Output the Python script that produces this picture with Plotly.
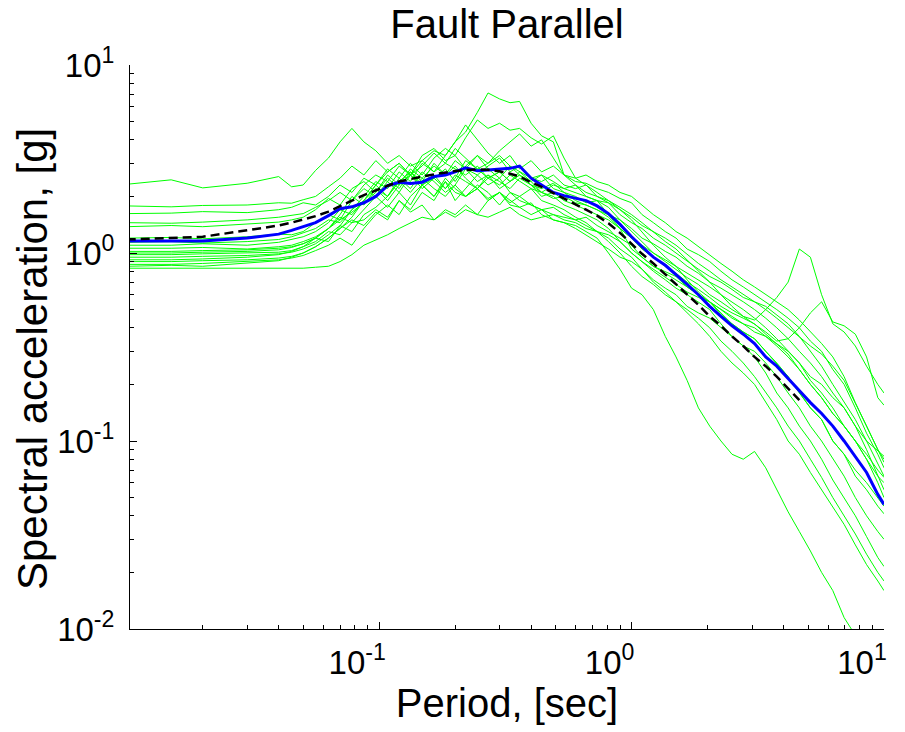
import plotly.graph_objects as go

# Periods (sec) shared by all spectra
period = [0.01, 0.015, 0.02, 0.03, 0.04, 0.045, 0.05, 0.056, 0.063, 0.07,
          0.078, 0.087, 0.097, 0.108, 0.12, 0.133, 0.148, 0.165, 0.183, 0.2,
          0.22, 0.245, 0.27, 0.3, 0.33, 0.36, 0.4, 0.44, 0.49, 0.54,
          0.6, 0.66, 0.73, 0.81, 0.9, 1.0, 1.1, 1.22, 1.36, 1.5,
          1.66, 1.84, 2.04, 2.26, 2.5, 2.77, 3.07, 3.4, 3.76, 4.17,
          4.62, 5.11, 5.66, 6.27, 6.95, 7.7, 8.53, 9.45, 10.0]

# Individual record spectra (green), Sa in g
rec01 = [2.32, 2.45, 2.22, 2.35, 2.55, 2.25, 2.30, 2.75, 3.2, 3.9,
         4.6, 3.9, 3.5, 3.0, 3.3, 2.9, 3.1, 2.7, 3.0, 2.8,
         2.6, 2.9, 2.5, 2.7, 2.4, 2.6, 2.3, 2.2, 2.35, 2.1,
         2.0, 1.85, 1.9, 1.6, 1.35, 1.05, 0.95, 0.85, 0.78, 0.72,
         0.66, 0.6, 0.55, 0.5, 0.46, 0.42, 0.38, 0.36, 0.33, 0.30,
         0.26, 0.22, 0.2, 0.17, 0.15, 0.12, 0.1, 0.088, 0.083]
rec02 = [1.78, 1.76, 1.79, 1.80, 1.85, 1.84, 1.92, 2.0, 2.25, 2.5,
         2.9, 2.6, 3.1, 2.7, 3.0, 2.6, 3.3, 3.6, 3.1, 3.3,
         2.8, 2.6, 2.9, 3.2, 2.7, 2.9, 2.5, 2.4, 2.6, 2.3,
         2.2, 2.3, 2.0, 1.85, 1.6, 1.45, 1.35, 1.2, 1.1, 1.0,
         0.9, 0.82, 0.75, 0.7, 0.64, 0.58, 0.55, 0.5, 0.45, 0.40,
         0.36, 0.32, 0.29, 0.25, 0.21, 0.16, 0.12, 0.09, 0.077]
rec03 = [1.62, 1.63, 1.66, 1.64, 1.70, 1.75, 1.85, 1.80, 2.0, 2.3,
         2.1, 2.5, 2.3, 2.8, 2.5, 3.0, 2.6, 3.2, 3.6, 3.3,
         4.1, 5.1, 4.6, 4.9, 4.5, 4.6, 4.1, 3.8, 4.2, 3.2,
         2.5, 2.3, 2.1, 1.9, 1.7, 1.5, 1.3, 1.1, 0.95, 0.85,
         0.72, 0.62, 0.55, 0.47, 0.42, 0.38, 0.35, 0.3, 0.26, 0.22,
         0.18, 0.15, 0.13, 0.1, 0.085, 0.065, 0.055, 0.045, 0.041]
rec04 = [1.45, 1.44, 1.46, 1.50, 1.55, 1.58, 1.62, 1.75, 1.9, 2.1,
         1.9, 2.3, 2.6, 2.4, 2.9, 2.6, 3.1, 3.5, 3.3, 3.9,
         4.4, 5.6, 7.1, 6.6, 6.3, 6.4, 4.9, 4.2, 3.9, 2.6,
         2.4, 2.35, 2.2, 2.1, 1.95, 1.85, 1.6, 1.45, 1.3, 1.2,
         1.05, 0.98, 0.9, 0.8, 0.72, 0.66, 0.6, 0.55, 0.5, 0.45,
         0.4, 0.34, 0.3, 0.24, 0.2, 0.15, 0.11, 0.085, 0.072]
rec05 = [1.38, 1.40, 1.38, 1.42, 1.46, 1.50, 1.55, 1.7, 1.95, 1.8,
         2.2, 2.4, 2.1, 2.6, 2.3, 2.8, 2.5, 2.9, 2.6, 3.1,
         2.8, 3.3, 3.0, 3.5, 3.9, 4.3, 3.7, 4.0, 3.2, 2.6,
         2.3, 2.0, 1.9, 1.75, 1.5, 1.3, 1.15, 1.0, 0.9, 0.82,
         0.74, 0.68, 0.6, 0.55, 0.5, 0.46, 0.44, 0.5, 0.58, 0.7,
         1.05, 0.95, 0.6, 0.42, 0.38, 0.32, 0.25, 0.2, 0.18]
rec06 = [1.20, 1.21, 1.19, 1.22, 1.26, 1.25, 1.30, 1.45, 1.6, 1.5,
         1.9, 2.2, 2.0, 2.4, 2.1, 2.6, 2.3, 2.5, 2.2, 2.6,
         2.4, 2.2, 2.5, 2.3, 2.6, 2.4, 2.2, 2.1, 1.95, 2.0,
         1.85, 1.8, 1.7, 1.55, 1.35, 1.2, 1.05, 0.95, 0.85, 0.78,
         0.7, 0.64, 0.58, 0.52, 0.48, 0.45, 0.42, 0.37, 0.33, 0.29,
         0.24, 0.2, 0.17, 0.14, 0.12, 0.1, 0.085, 0.07, 0.064]
rec07 = [1.10, 1.10, 1.12, 1.10, 1.14, 1.18, 1.22, 1.30, 1.45, 1.7,
         1.6, 1.9, 2.3, 2.0, 2.5, 2.2, 2.7, 2.4, 2.1, 2.3,
         2.8, 2.4, 2.6, 2.2, 2.4, 2.7, 2.4, 2.1, 2.3, 2.2,
         2.3, 2.1, 2.0, 1.9, 1.75, 1.6, 1.45, 1.3, 1.15, 1.05,
         0.92, 0.8, 0.7, 0.6, 0.52, 0.46, 0.42, 0.38, 0.34, 0.35,
         0.4, 0.48, 0.55, 0.43, 0.41, 0.37, 0.28, 0.17, 0.155]
rec08 = [1.06, 1.06, 1.07, 1.05, 1.08, 1.10, 1.15, 1.22, 1.35, 1.5,
         1.65, 1.85, 2.1, 2.5, 2.2, 2.7, 2.4, 3.0, 2.6, 2.9,
         2.5, 2.2, 2.6, 2.4, 2.2, 2.5, 2.3, 2.1, 2.0, 1.8,
         1.7, 1.6, 1.5, 1.35, 1.15, 1.0, 0.9, 0.8, 0.72, 0.65,
         0.6, 0.55, 0.5, 0.42, 0.36, 0.32, 0.28, 0.23, 0.18, 0.15,
         0.12, 0.1, 0.08, 0.062, 0.05, 0.04, 0.031, 0.024, 0.0215]
rec09 = [1.02, 1.02, 1.03, 1.04, 1.06, 1.08, 1.12, 1.2, 1.35, 1.55,
         1.45, 1.7, 2.0, 1.75, 2.1, 1.8, 2.3, 2.0, 2.4, 1.9,
         2.2, 2.6, 2.3, 2.5, 2.1, 2.0, 2.2, 1.9, 1.8, 1.7,
         1.55, 1.45, 1.3, 1.2, 1.05, 0.95, 0.82, 0.7, 0.62, 0.55,
         0.5, 0.45, 0.4, 0.34, 0.3, 0.26, 0.22, 0.18, 0.15, 0.12,
         0.1, 0.08, 0.064, 0.05, 0.04, 0.032, 0.025, 0.02, 0.018]
rec10 = [0.98, 0.98, 0.99, 1.00, 1.01, 1.03, 1.08, 1.15, 1.3, 1.25,
         1.45, 1.5, 1.7, 1.55, 1.9, 1.65, 1.8, 1.5, 1.7, 1.6,
         1.8, 1.6, 1.9, 2.1, 1.85, 2.0, 1.8, 1.7, 1.6, 1.55,
         1.5, 1.4, 1.3, 1.15, 1.0, 0.85, 0.75, 0.68, 0.6, 0.55,
         0.48, 0.42, 0.36, 0.3, 0.26, 0.23, 0.2, 0.16, 0.13, 0.1,
         0.085, 0.068, 0.055, 0.045, 0.036, 0.028, 0.022, 0.018, 0.016]
rec11 = [0.95, 0.95, 0.96, 0.97, 0.99, 1.01, 1.05, 1.12, 1.25, 1.4,
         1.3, 1.6, 1.75, 2.0, 2.4, 2.1, 2.5, 2.2, 2.0, 2.3,
         2.0, 2.2, 1.9, 2.1, 1.8, 1.75, 1.6, 1.7, 1.5, 1.45,
         1.4, 1.3, 1.2, 1.0, 0.82, 0.65, 0.6, 0.5, 0.36, 0.28,
         0.21, 0.15, 0.12, 0.1, 0.085, 0.08, 0.088, 0.072, 0.055, 0.042,
         0.033, 0.026, 0.02, 0.016, 0.0115, 0.0092, 0.0075, 0.006, 0.0055]
rec12 = [0.92, 0.92, 0.93, 0.95, 0.98, 1.02, 1.08, 1.2, 1.15, 1.4,
         1.7, 1.9, 2.2, 1.9, 2.3, 2.6, 2.2, 2.5, 2.8, 2.4,
         2.9, 3.3, 2.8, 2.5, 2.9, 2.6, 2.4, 2.6, 2.2, 2.1,
         1.9, 1.8, 1.7, 1.6, 1.5, 1.35, 1.2, 1.12, 1.02, 0.95,
         0.85, 0.78, 0.7, 0.65, 0.6, 0.55, 0.5, 0.45, 0.4, 0.35,
         0.3, 0.26, 0.22, 0.18, 0.15, 0.12, 0.09, 0.065, 0.055]
rec13 = [0.90, 0.90, 0.91, 0.92, 0.94, 0.96, 1.0, 1.08, 1.2, 1.35,
         1.5, 1.4, 1.65, 1.5, 1.9, 1.7, 2.1, 1.9, 2.4, 2.1,
         2.0, 2.3, 2.1, 1.8, 2.1, 1.9, 1.8, 1.7, 1.75, 1.6,
         1.5, 1.55, 1.4, 1.3, 1.2, 1.1, 0.95, 0.85, 0.8, 0.75,
         0.66, 0.6, 0.55, 0.48, 0.42, 0.38, 0.35, 0.3, 0.26, 0.22,
         0.18, 0.15, 0.13, 0.1, 0.085, 0.07, 0.06, 0.05, 0.045]
rec14 = [0.87, 0.87, 0.88, 0.90, 0.92, 0.94, 0.97, 1.03, 1.1, 1.2,
         1.1, 1.35, 1.6, 1.8, 1.6, 2.0, 2.3, 2.0, 2.5, 2.2,
         2.0, 2.2, 1.95, 2.1, 1.9, 1.75, 1.85, 1.6, 1.5, 1.45,
         1.35, 1.25, 1.15, 1.05, 0.95, 0.9, 0.82, 0.72, 0.65, 0.6,
         0.52, 0.48, 0.45, 0.4, 0.36, 0.32, 0.3, 0.26, 0.22, 0.18,
         0.15, 0.12, 0.1, 0.08, 0.065, 0.05, 0.04, 0.033, 0.03]
rec15 = [0.85, 0.86, 0.85, 0.88, 0.91, 0.95, 1.0, 1.08, 1.2, 1.35,
         1.55, 1.9, 2.3, 2.7, 3.0, 2.6, 2.9, 3.4, 3.0, 3.6,
         3.2, 2.8, 3.0, 3.3, 2.9, 2.7, 2.5, 2.6, 2.4, 2.2,
         2.1, 2.0, 1.9, 1.85, 1.7, 1.55, 1.4, 1.3, 1.2, 1.1,
         0.98, 0.88, 0.8, 0.72, 0.66, 0.6, 0.55, 0.52, 0.47, 0.42,
         0.36, 0.3, 0.25, 0.2, 0.16, 0.13, 0.1, 0.075, 0.065]
rec16 = [0.83, 0.83, 0.83, 0.83, 0.83, 0.83, 0.83, 0.84, 0.85, 0.9,
         0.98, 1.1, 1.17, 1.25, 1.35, 1.45, 1.55, 1.5, 1.65, 1.55,
         1.7, 1.6, 1.55, 1.65, 1.75, 1.6, 1.5, 1.55, 1.6, 1.5,
         1.45, 1.35, 1.3, 1.25, 1.15, 1.0, 0.9, 0.82, 0.75, 0.68,
         0.62, 0.58, 0.55, 0.5, 0.45, 0.42, 0.4, 0.36, 0.32, 0.28,
         0.24, 0.2, 0.17, 0.14, 0.12, 0.1, 0.08, 0.065, 0.06]
rec17 = [1.14, 1.15, 1.13, 1.15, 1.18, 1.22, 1.28, 1.35, 1.5, 1.45,
         1.7, 2.0, 2.4, 2.2, 2.7, 2.4, 3.0, 2.7, 3.3, 3.9,
         4.8, 4.0, 3.4, 3.0, 3.3, 2.8, 3.1, 2.7, 2.9, 2.6,
         2.5, 2.6, 2.4, 2.3, 2.1, 2.0, 1.8, 1.6, 1.45, 1.3,
         1.2, 1.08, 0.98, 0.88, 0.8, 0.72, 0.66, 0.6, 0.55, 0.5,
         0.44, 0.38, 0.33, 0.28, 0.22, 0.16, 0.12, 0.09, 0.08]
rec18 = [1.00, 1.00, 1.01, 1.02, 1.04, 1.07, 1.12, 1.2, 1.35, 1.6,
         2.0, 1.8, 2.2, 2.0, 2.4, 2.7, 2.3, 2.6, 2.2, 2.5,
         3.1, 2.8, 2.5, 2.7, 2.4, 2.6, 2.3, 2.0, 2.1, 1.9,
         1.8, 1.7, 1.6, 1.5, 1.35, 1.2, 1.1, 1.0, 0.92, 0.85,
         0.78, 0.72, 0.66, 0.6, 0.55, 0.5, 0.45, 0.4, 0.35, 0.3,
         0.26, 0.21, 0.18, 0.15, 0.12, 0.1, 0.08, 0.06, 0.05]

records = [rec01, rec02, rec03, rec04, rec05, rec06, rec07, rec08, rec09,
           rec10, rec11, rec12, rec13, rec14, rec15, rec16, rec17, rec18]

# Mean of the set (blue)
mean_sa = [1.16, 1.16, 1.16, 1.20, 1.26, 1.32, 1.38, 1.45, 1.58, 1.72,
           1.76, 1.85, 2.0, 2.28, 2.38, 2.34, 2.38, 2.55, 2.60, 2.70,
           2.84, 2.74, 2.76, 2.78, 2.82, 2.90, 2.50, 2.30, 2.10, 2.02,
           1.96, 1.90, 1.78, 1.62, 1.42, 1.22, 1.08, 0.95, 0.86, 0.77,
           0.68, 0.60, 0.52, 0.46, 0.41, 0.37, 0.33, 0.28, 0.25, 0.215,
           0.185, 0.16, 0.14, 0.12, 0.10, 0.083, 0.068, 0.052, 0.046]

# Target spectrum (black dashed), defined up to about 4.6 s
target_sa = [1.18, 1.20, 1.22, 1.32, 1.40, 1.45, 1.50, 1.57, 1.66, 1.78,
             1.90, 2.03, 2.16, 2.28, 2.40, 2.48, 2.55, 2.62, 2.68, 2.73,
             2.76, 2.78, 2.77, 2.72, 2.64, 2.55, 2.38, 2.25, 2.08, 1.95,
             1.82, 1.70, 1.58, 1.44, 1.28, 1.12, 0.99, 0.88, 0.77, 0.68,
             0.60, 0.53, 0.46, 0.41, 0.36, 0.32, 0.28, 0.25, 0.22, 0.19,
             0.165, None, None, None, None, None, None, None, None]

# Axis ticks
major_vals = [0.01, 0.1, 1, 10]
major_text = ["10<sup>-2</sup>", "10<sup>-1</sup>", "10<sup>0</sup>", "10<sup>1</sup>"]
minor_vals = [m * d for d in (0.01, 0.1, 1) for m in range(2, 10)]

FONT = "Arial, Liberation Sans, sans-serif"

fig = go.Figure()

for rec in records:
    fig.add_trace(go.Scatter(x=period, y=rec, mode="lines",
                             line=dict(color="#00ff00", width=1),
                             showlegend=False, hoverinfo="skip"))

fig.add_trace(go.Scatter(x=period, y=mean_sa, mode="lines",
                         line=dict(color="#0000ff", width=3),
                         showlegend=False))

fig.add_trace(go.Scatter(x=period, y=target_sa, mode="lines",
                         line=dict(color="black", width=2.5, dash="9px,5px"),
                         showlegend=False))

axis_common = dict(
    type="log", automargin=False,
    showgrid=False, zeroline=False,
    showline=True, linecolor="black", linewidth=1, mirror=False,
    ticks="inside", ticklen=7, tickcolor="black", tickwidth=1,
    tickmode="array", tickvals=major_vals, ticktext=major_text,
    tickfont=dict(family=FONT, size=33, color="black"),
    minor=dict(ticks="inside", ticklen=4, tickcolor="black", tickvals=minor_vals),
)

fig.update_xaxes(**axis_common, range=[-1.987, 1],
                 ticklabelshift=-22, ticklabelstandoff=4,
                 title=dict(text="Period, [sec]", standoff=2,
                            font=dict(family=FONT, size=40, color="black")))
fig.update_yaxes(**axis_common, range=[-2, 1], ticklabelstandoff=8)

# y-axis title as an annotation, sitting a little below the plot centre
fig.add_annotation(text="Spectral acceleration, [g]", textangle=-90,
                   xref="paper", x=0, xanchor="center", xshift=-98,
                   yref="paper", y=0.5, yanchor="middle", yshift=-12,
                   showarrow=False,
                   font=dict(family=FONT, size=42, color="black"))

fig.update_layout(
    width=905, height=732,
    margin=dict(l=130, r=21, t=65, b=103, autoexpand=False),
    paper_bgcolor="white", plot_bgcolor="white",
    title=dict(text="Fault Parallel", x=0.5, xref="paper", xanchor="center",
               y=1 - 23.5 / 732, yref="container", yanchor="middle",
               font=dict(family=FONT, size=40, color="black")),
)

# page body margin removed so the figure sits at the window's top-left corner
fig.write_html("out.html", config={"displayModeBar": False},
               post_script="document.body.style.margin = '0px';")
